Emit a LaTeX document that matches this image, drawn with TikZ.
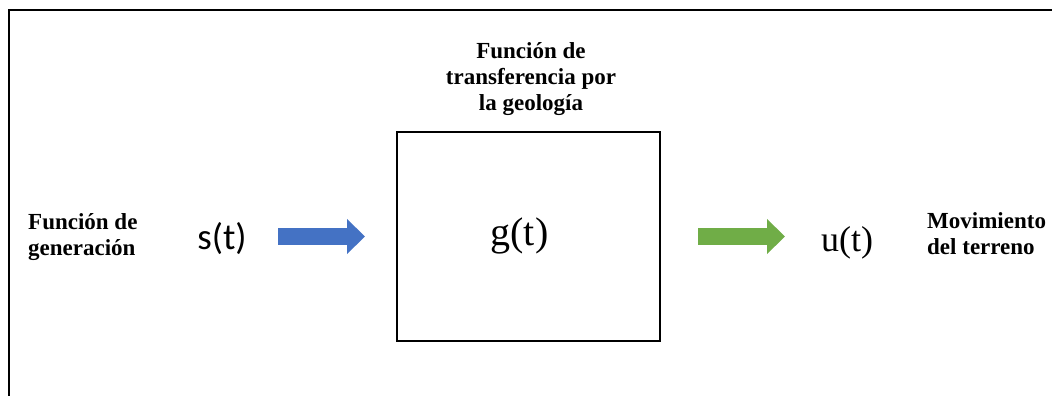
\documentclass[tikz,border=0pt]{standalone}
\usepackage{fontspec}
\setmainfont{Liberation Serif}
\newfontfamily\calibrifont{Carlito}
\newfontfamily\timesfont{Liberation Serif}
\usetikzlibrary{arrows.meta}
\definecolor{arrblue}{HTML}{4472C4}
\definecolor{arrgreen}{HTML}{70AD47}
\tikzset{
  lbl/.style={inner sep=0pt, font=\timesfont\fontsize{23}{26}\selectfont\bfseries},
  sig/.style={inner sep=0pt},
  blk/.style={draw=black, line width=2pt, minimum width=263pt, minimum height=209pt, inner sep=0pt},
  fat/.style={line width=17pt, -{Triangle[length=18pt,width=34pt]}},
  frame/.style={draw=black, line width=2pt}
}
\begin{document}
\begin{tikzpicture}[x=1pt,y=-1pt]
\useasboundingbox (0,0) rectangle (1052,396);
\draw[frame] (8.5,400) -- (8.5,10) -- (1060,10);
\node[blk] (box) at (528.5,236.5) {};
\node[sig, font=\timesfont\fontsize{40}{44}\selectfont] (g) at (519.5,236) {g(t)};
\node[sig, font=\calibrifont\fontsize{37}{40}\selectfont] (s) at (222,239) {s(t)};
\node[sig, font=\timesfont\fontsize{36}{40}\selectfont] (u) at (847,243) {u(t)};
\node[lbl, anchor=west, align=left] (gen) at (28,237) {Función de\\generación};
\node[lbl, anchor=west, align=left] (mov) at (927,234) {Movimiento\\del terreno};
\node[lbl, align=center] (tr) at (531,79) {Función de\\transferencia por\\la geología};
\coordinate (b1) at (278,236.5);
\coordinate (b2) at (365,236.5);
\coordinate (g1) at (698,236.5);
\coordinate (g2) at (785,236.5);
\draw[fat, arrblue] (b1) -- (b2);
\draw[fat, arrgreen] (g1) -- (g2);
\end{tikzpicture}
\end{document}
